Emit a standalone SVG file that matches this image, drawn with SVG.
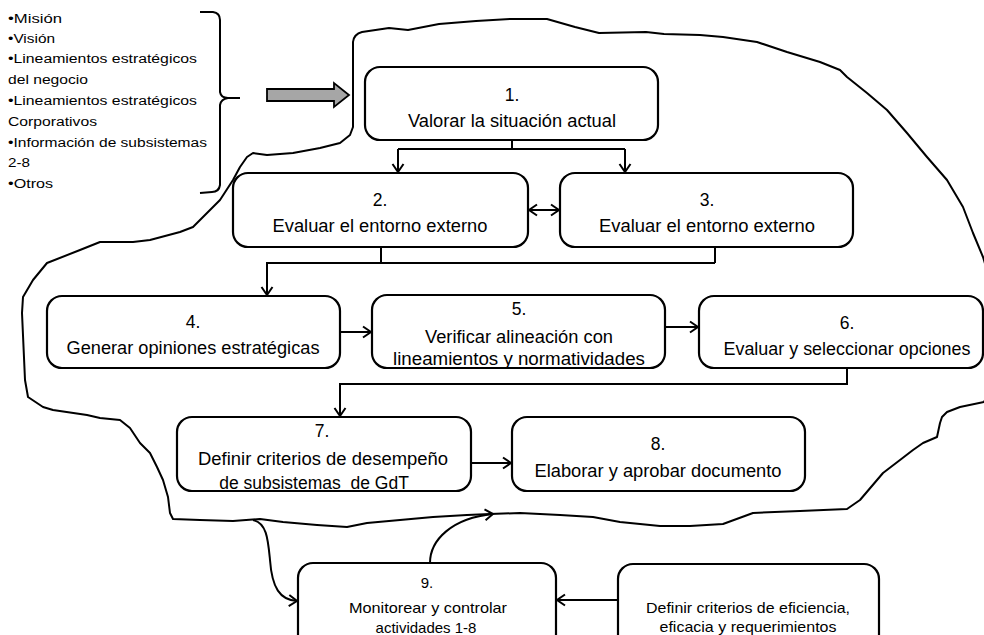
<svg xmlns="http://www.w3.org/2000/svg" width="984" height="635" viewBox="0 0 984 635">
  <style>
    .box { fill: #ffffff; stroke: #000000; stroke-width: 2.2; }
    .t { font-family: "Liberation Sans", Arial, sans-serif; font-size: 17.5px; fill: #000000; text-anchor: middle; }
    .s { font-family: "Liberation Sans", Arial, sans-serif; font-size: 15px; fill: #000000; text-anchor: middle; }
    .l { font-family: "Liberation Sans", Arial, sans-serif; font-size: 12.5px; fill: #000000; }
    .c { fill: none; stroke: #000000; stroke-width: 2; }
    .blob { fill: none; stroke: #000000; stroke-width: 2; stroke-linejoin: round; }
  </style>
  <defs>
    <marker id="open" markerUnits="userSpaceOnUse" markerWidth="12" markerHeight="14" refX="10" refY="7" orient="auto-start-reverse">
      <path d="M2,1.5 L10,7 L2,12.5" fill="none" stroke="#000000" stroke-width="2"/>
    </marker>
  </defs>
  <rect width="984" height="635" fill="#ffffff"/>

  <!-- input list with brace -->
  <g id="inputs">
    <text class="l" x="8" y="23" textLength="54" lengthAdjust="spacingAndGlyphs">•Misión</text>
    <text class="l" x="8" y="43" textLength="47" lengthAdjust="spacingAndGlyphs">•Visión</text>
    <text class="l" x="8" y="63" textLength="189" lengthAdjust="spacingAndGlyphs">•Lineamientos estratégicos</text>
    <text class="l" x="8" y="84" textLength="80" lengthAdjust="spacingAndGlyphs">del negocio</text>
    <text class="l" x="8" y="105" textLength="189" lengthAdjust="spacingAndGlyphs">•Lineamientos estratégicos</text>
    <text class="l" x="8" y="126" textLength="89" lengthAdjust="spacingAndGlyphs">Corporativos</text>
    <text class="l" x="8" y="147" textLength="199" lengthAdjust="spacingAndGlyphs">•Información de subsistemas</text>
    <text class="l" x="8" y="167" textLength="22" lengthAdjust="spacingAndGlyphs">2-8</text>
    <text class="l" x="8" y="188" textLength="45" lengthAdjust="spacingAndGlyphs">•Otros</text>
    <path d="M200,12 L213,12 Q220,13 220,20 L220,92 Q221,98 228,98 L240,98 M228,98 Q221,99 220,105 L220,185 Q219,192 212,192 L200,193" fill="none" stroke="#000000" stroke-width="2"/>
  </g>

  <!-- grey block arrow -->
  <g id="input-arrow">
    <path d="M267,89 L334,89 L334,83 L349,95 L334,107 L334,101 L267,101 Z" fill="#a6a6a6" stroke="#000000" stroke-width="1.8" stroke-linejoin="miter"/>
  </g>

  <!-- free-hand outline grouping steps 1-8 -->
  <g id="scope-outline">
    <path class="blob" d="M353,127 L353,42 Q354,34 362,32 L389,28 L408,30 L439,24 L476,21 L510,19 L547,19 L575,27 L599,33 L646,32 L664,34 L700,35 L723,37 L757,42 L787,52 L820,62 L840,70 L847,77 L867,93 L887,110 L907,133 L927,157 L947,180 L963,207 L973,233 L983,257 L990,280 L990,390 L984,402 L960,407 L947,412 L942,417 L940,423 L937,437 L923,443 L913,450 L900,460 L883,473 L860,500 L847,509 L800,511 L753,513 L723,524 L690,526 L660,526 L620,522 L593,517 L560,515 L520,513 L490,514 L467,515 L433,517 L400,520 L367,523 L347,527 L317,525 L283,522 L260,519 L233,521 L200,520 L173,519 L170,513 L168,497 L163,480 L157,467 L150,453 L140,443 L130,428 L120,420 L100,418 L87,415 L53,410 L43,407 L28,397 L25,380 L22,313 L23,297 L33,280 L47,263 L80,250 L100,242 L133,242 L150,240 L180,232 L193,227 L220,200 L233,180 L240,167 L247,157 L253,153 L267,155 L293,153 L320,148 L340,143 L350,135 Z"/>
  </g>

  <g id="step1">
    <rect class="box" x="365" y="67" width="293" height="73" rx="15"/>
    <text class="t" x="512" y="101">1.</text>
    <text class="t" x="512" y="127" textLength="208" lengthAdjust="spacingAndGlyphs">Valorar la situación actual</text>
  </g>
  <g id="step2">
    <rect class="box" x="233" y="173" width="295" height="74" rx="15"/>
    <text class="t" x="380" y="206">2.</text>
    <text class="t" x="380" y="232" textLength="215" lengthAdjust="spacingAndGlyphs">Evaluar el entorno externo</text>
  </g>
  <g id="step3">
    <rect class="box" x="560" y="173" width="293" height="74" rx="15"/>
    <text class="t" x="707" y="206">3.</text>
    <text class="t" x="707" y="232" textLength="216" lengthAdjust="spacingAndGlyphs">Evaluar el entorno externo</text>
  </g>
  <g id="step4">
    <rect class="box" x="47" y="296" width="293" height="72" rx="15"/>
    <text class="t" x="193" y="328">4.</text>
    <text class="t" x="193" y="354" textLength="253" lengthAdjust="spacingAndGlyphs">Generar opiniones estratégicas</text>
  </g>
  <g id="step5">
    <rect class="box" x="372" y="295" width="293" height="73" rx="15"/>
    <text class="t" x="519" y="315">5.</text>
    <text class="t" x="519" y="343" textLength="188" lengthAdjust="spacingAndGlyphs">Verificar alineación con</text>
    <text class="t" x="519" y="365" textLength="252" lengthAdjust="spacingAndGlyphs">lineamientos y normatividades</text>
  </g>
  <g id="step6">
    <rect class="box" x="699" y="296" width="284" height="72" rx="15"/>
    <text class="t" x="847" y="329">6.</text>
    <text class="t" x="847" y="355" textLength="247" lengthAdjust="spacingAndGlyphs">Evaluar y seleccionar opciones</text>
  </g>
  <g id="step7">
    <rect class="box" x="177" y="417" width="294" height="74" rx="15"/>
    <text class="t" x="322" y="437">7.</text>
    <text class="t" x="323" y="465" textLength="250" lengthAdjust="spacingAndGlyphs">Definir criterios de desempeño</text>
    <text class="t" x="314" y="489">de subsistemas &#160;de GdT</text>
  </g>
  <g id="step8">
    <rect class="box" x="512" y="417" width="293" height="74" rx="15"/>
    <text class="t" x="658" y="450">8.</text>
    <text class="t" x="658" y="477" textLength="247" lengthAdjust="spacingAndGlyphs">Elaborar y aprobar documento</text>
  </g>
  <g id="step9">
    <rect class="box" x="298" y="563" width="258" height="90" rx="15"/>
    <text class="s" x="427" y="588">9.</text>
    <text class="s" x="428" y="613" textLength="158" lengthAdjust="spacingAndGlyphs">Monitorear y controlar</text>
    <text class="s" x="426" y="633">actividades 1-8</text>
  </g>
  <g id="criteria">
    <rect class="box" x="618" y="564" width="261" height="90" rx="15"/>
    <text class="s" x="748" y="613" textLength="204" lengthAdjust="spacingAndGlyphs">Definir criterios de eficiencia,</text>
    <text class="s" x="748" y="632" textLength="177" lengthAdjust="spacingAndGlyphs">eficacia y requerimientos</text>
  </g>

  <g id="connectors">
    <path class="c" d="M512,140 V149 M398,149 H625"/>
    <path class="c" d="M398,149 V172" marker-end="url(#open)"/>
    <path class="c" d="M625,149 V172" marker-end="url(#open)"/>
    <path class="c" d="M529,210 H559" marker-start="url(#open)" marker-end="url(#open)"/>
    <path class="c" d="M381,247 V263 M715,247 V263"/>
    <path class="c" d="M715,263 H267 V295" marker-end="url(#open)"/>
    <path class="c" d="M340,332 H371" marker-end="url(#open)"/>
    <path class="c" d="M665,327 H698" marker-end="url(#open)"/>
    <path class="c" d="M847,368 V384 H340 V416" marker-end="url(#open)"/>
    <path class="c" d="M471,463 H511" marker-end="url(#open)"/>
    <path class="c" d="M618,600 H557" marker-end="url(#open)"/>
    <path class="c" d="M253,520 C267,523 268,540 270,560 C272,588 280,600 297,601" marker-end="url(#open)"/>
    <path class="c" d="M430,563 C430,540 452,518 493,514" marker-end="url(#open)"/>
  </g>
</svg>
